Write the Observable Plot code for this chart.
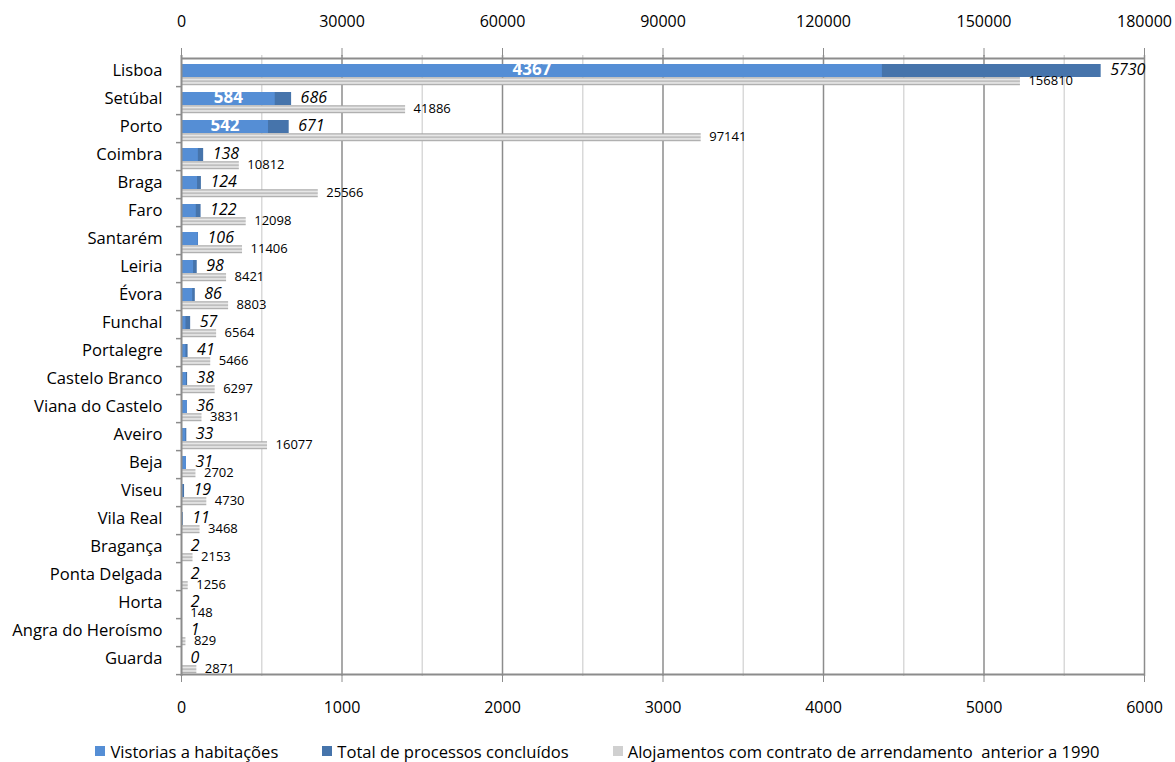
<!DOCTYPE html>
<html>
<head>
<meta charset="utf-8">
<script src="https://cdn.jsdelivr.net/npm/d3@7"></script>
<script src="https://cdn.jsdelivr.net/npm/@observablehq/plot@0.6"></script>
<style>
  html, body { margin: 0; padding: 0; background: #fff; }
  body { width: 1175px; height: 762px; overflow: hidden; font-family: "Open Sans", sans-serif; }
  #legend { display: flex; justify-content: center; align-items: center; gap: 44px; height: 22px; font-size: 16.6px; color: #000; padding-left: 20px; white-space: pre; }
  #legend .item { display: flex; align-items: center; }
  #legend .sw { width: 10px; height: 10px; margin-right: 5px; }
</style>
</head>
<body>
<div id="chart"></div>
<div id="legend"></div>
<script>
// Districts, ordered as listed
const cities = ["Lisboa", "Setúbal", "Porto", "Coimbra", "Braga", "Faro", "Santarém", "Leiria", "Évora", "Funchal", "Portalegre", "Castelo Branco", "Viana do Castelo", "Aveiro", "Beja", "Viseu", "Vila Real", "Bragança", "Ponta Delgada", "Horta", "Angra do Heroísmo", "Guarda"];
// Total de processos concluídos
const totais = [5730, 686, 671, 138, 124, 122, 106, 98, 86, 57, 41, 38, 36, 33, 31, 19, 11, 2, 2, 2, 1, 0];
// Vistorias a habitações
const vistorias = [4367, 584, 542, 105, 100, 92, 104, 75, 70, 28, 28, 31, 36, 27, 31, 12, 8, 2, 2, 2, 1, 0];
// Alojamentos com contrato de arrendamento anterior a 1990 (top axis)
const alojamentos = [156810, 41886, 97141, 10812, 25566, 12098, 11406, 8421, 8803, 6564, 5466, 6297, 3831, 16077, 2702, 4730, 3468, 2153, 1256, 148, 829, 2871];

const bottomTicks = [0, 1000, 2000, 3000, 4000, 5000, 6000];
const topTicks = [0, 30000, 60000, 90000, 120000, 150000, 180000];
const minorTicks = [500, 1500, 2500, 3500, 4500, 5500];

const seriesNames = ["Vistorias a habitações", "Total de processos concluídos", "Alojamentos com contrato de arrendamento  anterior a 1990"];
const colors = ["#558ED5", "#4674AB", "#d0d0d0"];

// the secondary (top) axis runs 0–180000 over the same span as 0–6000
const ratio = topTicks[topTicks.length - 1] / bottomTicks[bottomTicks.length - 1];

const data = cities.map((city, i) => ({
  city,
  total: totais[i],
  vist: vistorias[i],
  aloj: alojamentos[i]
}));

const width = 1175, height = 740;
const marginTop = 55, marginBottom = 64, marginLeft = 181, marginRight = 31;
const step = (height - marginTop - marginBottom) / cities.length;

const chart = Plot.plot({
  width, height, marginTop, marginBottom, marginLeft, marginRight,
  style: { fontFamily: "Open Sans, sans-serif", fontSize: "16px", color: "#000", background: "#fff" },
  x: { domain: [0, 6000], axis: null },
  y: { type: "band", domain: cities, padding: 0, axis: null },
  marks: [
    // grid
    Plot.ruleX(minorTicks, { stroke: "#d9d9d9", strokeWidth: 1.5 }),
    Plot.ruleX(bottomTicks.slice(1), { stroke: "#8c8c8c", strokeWidth: 1.5 }),
    // axes
    Plot.axisX(topTicks.map(v => v / ratio), {
      anchor: "top", tickSize: 8, tickPadding: 21, stroke: "#8c8c8c",
      tickFormat: d => String(Math.round(d * ratio)), fontSize: 16, label: null
    }),
    Plot.axisX(bottomTicks, {
      anchor: "bottom", tickSize: 6, tickPadding: 19, stroke: "#8c8c8c",
      tickFormat: d => String(d), fontSize: 16, label: null
    }),
    Plot.axisY({ tickSize: 0, tickPadding: 19, fontSize: 16.6, dy: -2, label: null }),
    // category separators on the left axis
    Plot.ruleY(cities, { y: d => d, x1: -31, x2: 0, dy: step / 2, stroke: "#8c8c8c", strokeWidth: 1.5 }),
    // alojamentos (striped bars)
    Plot.barX(data, {
      y: "city", x: d => d.aloj / ratio, fill: "url(#aloj-stripes)",
      insetTop: 19.3, insetBottom: 0.8
    }),
    // processos concluídos and vistorias
    Plot.barX(data, { y: "city", x: "total", fill: colors[1], insetTop: 6, insetBottom: 9 }),
    Plot.barX(data, { y: "city", x: "vist", fill: colors[0], insetTop: 6, insetBottom: 9 }),
    // frame lines
    Plot.ruleY([cities[0]], { y: d => d, dy: -step / 2, stroke: "#8c8c8c", strokeWidth: 2 }),
    Plot.ruleY([cities[cities.length - 1]], { y: d => d, dy: step / 2, stroke: "#8c8c8c", strokeWidth: 2 }),
    Plot.ruleX([0], { stroke: "#8c8c8c", strokeWidth: 2 }),
    // labels
    Plot.text(data.filter(d => d.vist >= 500), {
      y: "city", x: d => d.vist / 2, text: d => String(d.vist),
      fill: "#fff", fontWeight: "bold", fontSize: 17, dy: -3
    }),
    Plot.text(data, {
      y: "city", x: "total", text: d => String(d.total), dx: 9, dy: -3,
      textAnchor: "start", fontStyle: "italic", fontSize: 16, fill: "#000"
    }),
    Plot.text(data, {
      y: "city", x: d => d.aloj / ratio, text: d => String(d.aloj), dx: 8, dy: 8,
      textAnchor: "start", fontSize: 13, fill: "#000"
    })
  ]
});

// horizontal stripe fill for the alojamentos bars
d3.select(chart).insert("defs", ":first-child").html(`
  <pattern id="aloj-stripes" patternUnits="objectBoundingBox" patternContentUnits="objectBoundingBox" width="1" height="1">
    <rect width="1" height="1" fill="#ececec"></rect>
    <rect y="0" width="1" height="0.16" fill="#a6a6a6"></rect>
    <rect y="0.42" width="1" height="0.16" fill="#a6a6a6"></rect>
    <rect y="0.84" width="1" height="0.16" fill="#a6a6a6"></rect>
  </pattern>`);

document.getElementById("chart").appendChild(chart);

const legend = d3.select("#legend");
seriesNames.forEach((name, i) => {
  const item = legend.append("div").attr("class", "item");
  item.append("div").attr("class", "sw").style("background", colors[i]);
  item.append("span").text(name);
});
</script>
</body>
</html>
